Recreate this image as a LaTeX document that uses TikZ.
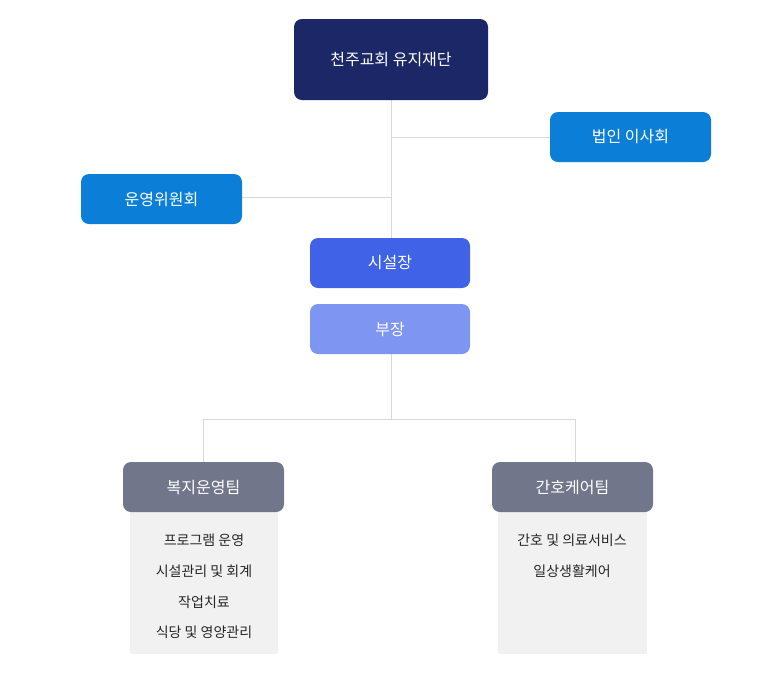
\documentclass[tikz,border=0pt]{standalone}
\usepackage{fontspec}
\setmainfont{Noto Sans CJK KR}
\definecolor{navy}{HTML}{1B2766}
\definecolor{blu}{HTML}{0B7FD8}
\definecolor{roy}{HTML}{3F62E6}
\definecolor{lroy}{HTML}{7E96F1}
\definecolor{gry}{HTML}{71768A}
\definecolor{pale}{HTML}{F1F1F1}
\definecolor{ln}{HTML}{D8D8D8}
\begin{document}
\begin{tikzpicture}[x=0.75pt,y=-0.75pt,
  box/.style={rounded corners=6pt,text=white,font=\fontsize{12}{14}\selectfont,inner sep=0pt},
  conn/.style={draw=ln,line width=0.75pt}]
\useasboundingbox (0,0) rectangle (780,694);
\fill[pale] (130,505) rectangle (278,654);
\fill[pale] (498,505) rectangle (647,654);
\coordinate (j1) at (391,137);
\coordinate (j2) at (391,197);
\coordinate (j3) at (391,419);
\coordinate (jl) at (203,419);
\coordinate (jr) at (575,419);
\draw[conn] (391,100) -- (391,238);
\draw[conn] (j1) -- (550,137);
\draw[conn] (242,197) -- (j2);
\draw[conn] (391,354) -- (j3);
\draw[conn] (jl) -- (jr);
\draw[conn] (jl) -- (203,462);
\draw[conn] (jr) -- (575,462);
\node[box,fill=navy] (a) at (391,59.5) [minimum width=145.5pt,minimum height=60.75pt] {천주교회 유지재단};
\node[box,fill=blu] (b) at (630.5,137) [minimum width=120.75pt,minimum height=37.5pt] {법인 이사회};
\node[box,fill=blu] (c) at (161.5,199) [minimum width=120.75pt,minimum height=37.5pt] {운영위원회};
\node[box,fill=roy] (d) at (390,263) [minimum width=120pt,minimum height=37.5pt] {시설장};
\node[box,fill=lroy] (e) at (390,329) [minimum width=120pt,minimum height=37.5pt] {부장};
\node[box,fill=gry] (f) at (203.5,487) [minimum width=120.75pt,minimum height=37.5pt] {복지운영팀};
\node[box,fill=gry] (g) at (572.5,487) [minimum width=120.75pt,minimum height=37.5pt] {간호케어팀};
\begin{scope}[every node/.style={font=\fontsize{10.5}{12}\selectfont,text=black!85}]
\node (f1) at (204,540) {프로그램 운영};
\node (f2) at (204,571) {시설관리 및 회계};
\node (f3) at (204,602) {작업치료};
\node (f4) at (204,632) {식당 및 영양관리};
\node (g1) at (572,540) {간호 및 의료서비스};
\node (g2) at (572,571) {일상생활케어};
\end{scope}
\end{tikzpicture}
\end{document}
